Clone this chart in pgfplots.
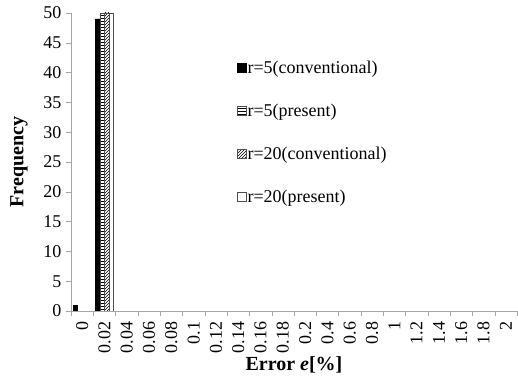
\documentclass[border=0pt]{standalone}
\usepackage{fontspec}
\setmainfont{Liberation Serif}
\usepackage{pgfplots}
\pgfplotsset{compat=1.18}
\usetikzlibrary{patterns}
\begin{document}
\begin{tikzpicture}
\begin{axis}[
  scale only axis, width=446pt, height=298pt,
  ybar=0pt, bar width=4.5pt,
  xmin=-0.5, xmax=19.5, ymin=0, ymax=50,
  xtick={-0.5,0.5,...,19.5},
  x tick label as interval,
  xticklabels={0,0.02,0.04,0.06,0.08,0.1,0.12,0.14,0.16,0.18,0.2,0.4,0.6,0.8,1,1.2,1.4,1.6,1.8,2},
  tick label style={font=\fontsize{18}{20}\selectfont},
  x tick label style={rotate=90, anchor=east, xshift=-2pt},
  y tick label style={xshift=-1pt},
  ytick={0,5,...,50},
  axis x line=bottom, axis y line=left,
  axis line style={gray!70,-},
  tick style={gray!70, thin},
  major tick length=5pt,
  tick align=outside,
  /pgf/number format/assume math mode=true,
  ylabel={\bfseries Frequency},
  xlabel={\bfseries Error \textit{e}[\%]},
  label style={font=\fontsize{20}{22}\selectfont},
  y label style={at={(axis description cs:-0.1166,0.5)}, anchor=center},
  x label style={at={(axis description cs:0.5,-0.181)}, anchor=center},
  legend style={draw=none, fill=none, at={(0.372,0.847)}, anchor=north west,
    inner sep=0pt, row sep=25pt, font=\fontsize{18}{20}\selectfont, cells={anchor=west},
    nodes={inner xsep=1pt}},
  legend image code/.code={\draw[#1] (0pt,-4.5pt) rectangle (9pt,4.5pt);},
]
\addplot[fill=black, draw=black] coordinates {(0,1) (1,49)};
\addplot[pattern=horizontal lines, draw=black!70] coordinates {(1,50)};
\addplot[pattern=north east lines, draw=black!70] coordinates {(1,50)};
\addplot[fill=white, draw=black!70] coordinates {(1,50)};
\legend{r=5(conventional),r=5(present),r=20(conventional),r=20(present)}
\end{axis}
\pgfresetboundingbox
\path ([xshift=-71pt,yshift=-68pt]current axis.south west) rectangle ([xshift=1pt,yshift=13pt]current axis.north east);
\end{tikzpicture}
\end{document}
